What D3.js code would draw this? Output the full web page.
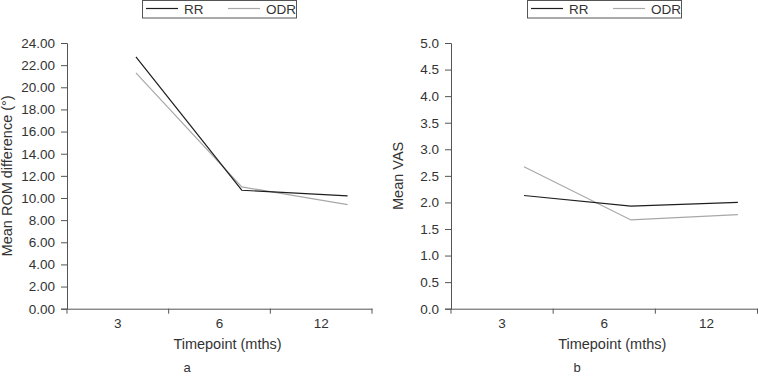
<!DOCTYPE html>
<html>
<head>
<meta charset="utf-8">
<script src="https://cdn.jsdelivr.net/npm/d3@7"></script>
<style>
  body { margin: 0; background: #fff; }
  svg text { font-family: "Liberation Sans", Arial, sans-serif; fill: #333; }
  .axis text { font-size: 13.5px; }
</style>
</head>
<body>
<svg id="chart" width="758" height="376"></svg>
<script>
const timepoints = ["3", "6", "12"];
const seriesNames = ["RR", "ODR"];

// panel a: mean ROM difference
const romRR = [22.74, 10.7, 10.2];
const romODR = [21.3, 11.0, 9.4];
const romTicks = d3.range(0, 24.01, 2);

// panel b: mean VAS
const vasRR = [2.13, 1.93, 2.0];
const vasODR = [2.67, 1.67, 1.77];
const vasTicks = d3.range(0, 5.01, 0.5);

const colors = { RR: "#1e1e1e", ODR: "#a8a8a8" };

const svg = d3.select("#chart");

function drawPanel(opts) {
  const { left, top, width, height, yMax, ticks, fmt, yTitle, letter, rr, odr, legendX, ptRange } = opts;
  const g = svg.append("g").attr("transform", `translate(${left},${top})`);

  const x = d3.scaleBand().domain(timepoints).range([0, width]);
  // the plotted points sit a little right of the band centres in the source
  const xp = d3.scalePoint().domain(timepoints).range(ptRange.map((f) => f * width));
  const y = d3.scaleLinear().domain([0, yMax]).range([height, 0]);

  const yAxis = g.append("g").attr("class", "axis")
    .call(d3.axisLeft(y).tickValues(ticks).tickFormat(d3.format(fmt)).tickSize(6).tickPadding(6));
  const xAxis = g.append("g").attr("class", "axis")
    .attr("transform", `translate(0,${height})`)
    .call(d3.axisBottom(x).tickSize(0).tickPadding(10));

  // boundary ticks between categories
  xAxis.selectAll(".edge")
    .data([0, ...timepoints.map((t) => x(t) + x.bandwidth())])
    .enter().append("line")
    .attr("class", "edge")
    .attr("x1", (d) => d).attr("x2", (d) => d)
    .attr("y1", 0).attr("y2", 5)
    .attr("stroke", "#555");

  [yAxis, xAxis].forEach((a) => {
    a.attr("font-size", null).attr("font-family", null);
    a.select(".domain").attr("stroke", "#555");
    a.selectAll(".tick line").attr("stroke", "#555");
    a.selectAll("text").attr("fill", "#333");
  });

  const line = d3.line().x((d, i) => xp(timepoints[i])).y((d) => y(d));
  g.append("path").datum(odr).attr("d", line)
    .attr("fill", "none").attr("stroke", colors.ODR).attr("stroke-width", 1.2);
  g.append("path").datum(rr).attr("d", line)
    .attr("fill", "none").attr("stroke", colors.RR).attr("stroke-width", 1.2);

  g.append("text")
    .attr("x", width / 2 + 8).attr("y", height + 40)
    .attr("text-anchor", "middle").style("font-size", "14.5px")
    .text("Timepoint (mths)");

  g.append("text")
    .attr("transform", `translate(${opts.yTitleX},${height / 2}) rotate(-90)`)
    .attr("text-anchor", "middle").style("font-size", "14.5px")
    .text(yTitle);

  g.append("text")
    .attr("x", opts.letterX).attr("y", height + 63)
    .attr("text-anchor", "middle").style("font-size", "13px")
    .text(letter);

  // legend
  const lg = svg.append("g").attr("transform", `translate(${legendX},0)`);
  lg.append("rect").attr("x", 0.5).attr("y", 0.5).attr("width", 154).attr("height", 17.5)
    .attr("fill", "#fff").attr("stroke", "#555");
  seriesNames.forEach((s, i) => {
    const ox = 4 + i * 82;
    lg.append("line").attr("x1", ox).attr("x2", ox + 32).attr("y1", 8.5).attr("y2", 8.5)
      .attr("stroke", colors[s]).attr("stroke-width", 1.2);
    lg.append("text").attr("x", ox + 38).attr("y", 13.5)
      .style("font-size", "13.5px").text(s);
  });
}

drawPanel({
  left: 67, top: 43, width: 305, height: 265.7,
  yMax: 24, ticks: romTicks, fmt: ".2f",
  yTitle: "Mean ROM difference (\u00b0)", yTitleX: -55,
  letter: "a", letterX: 120,
  rr: romRR, odr: romODR, legendX: 142, ptRange: [0.226, 0.92]
});

drawPanel({
  left: 451, top: 43, width: 306.5, height: 265.7,
  yMax: 5, ticks: vasTicks, fmt: ".1f",
  yTitle: "Mean VAS", yTitleX: -48,
  letter: "b", letterX: 126,
  rr: vasRR, odr: vasODR, legendX: 527, ptRange: [0.238, 0.936]
});
</script>
</body>
</html>
